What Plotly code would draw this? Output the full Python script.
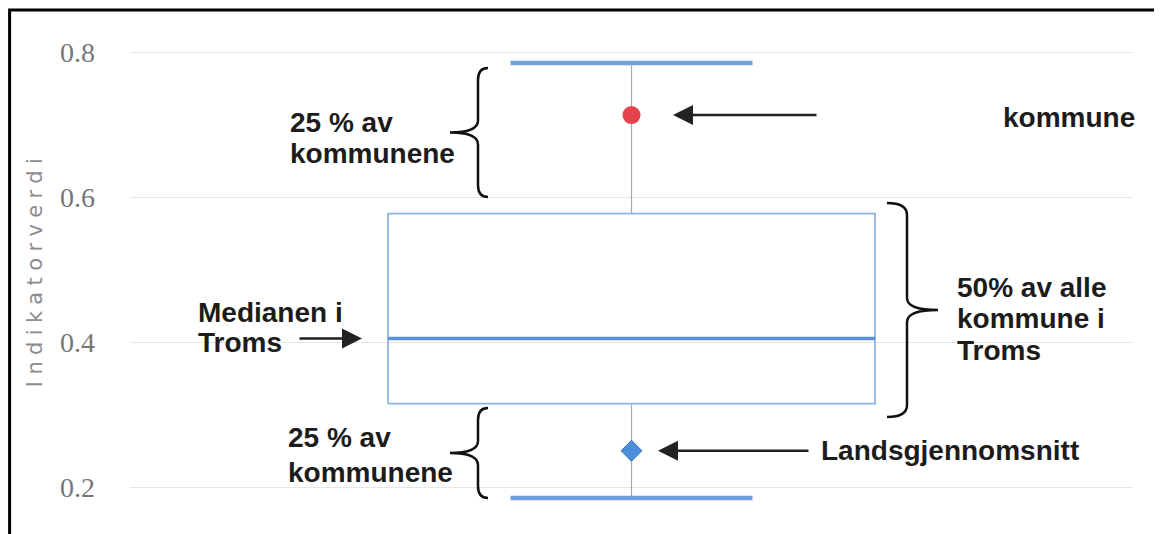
import plotly.graph_objects as go

# ---------------- data ----------------
categories = ["Troms"]
upper_whisker = [0.785]
q3_values = [0.577]
median_values = [0.405]
q1_values = [0.315]
lower_whisker = [0.185]
kommune_values = [0.713]
landsgjennomsnitt_values = [0.25]
y_tick_values = [0.2, 0.4, 0.6, 0.8]
y_tick_labels = ["0.2", "0.4", "0.6", "0.8"]
axis_title = "Indikatorverdi"

# ---------------- layout constants (page pixels) ----------------
OFF = 8                      # default body margin of the html page
W, H = 1162 - OFF, 534 - OFF # figure fits exactly in the window
PLOT_L, PLOT_R, PLOT_T, PLOT_B = 130, 1133, 23, 516   # plot area on the page
ML, MT = PLOT_L - OFF, PLOT_T - OFF
MR, MB = W - (PLOT_R - OFF), H - (PLOT_B - OFF)
X_RANGE = [-0.5, 0.5]
Y_RANGE = [0.16, 0.84]
PW, PH = PLOT_R - PLOT_L, PLOT_B - PLOT_T


def px2x(px):
    return X_RANGE[0] + (px - PLOT_L) / PW * (X_RANGE[1] - X_RANGE[0])


def px2y(py):
    return Y_RANGE[1] - (py - PLOT_T) / PH * (Y_RANGE[1] - Y_RANGE[0])


def dx(pixels):
    return pixels / PW * (X_RANGE[1] - X_RANGE[0])


BOX_HALF = dx(243.5)
CAP_HALF = dx(121)
c = 0  # position of the single category

fig = go.Figure()

# whiskers (thin grey)
fig.add_trace(go.Scatter(
    x=[c, c, None, c, c],
    y=[q3_values[0], upper_whisker[0], None, q1_values[0], lower_whisker[0]],
    mode="lines", line=dict(color="#a8a8a8", width=1.2),
    hoverinfo="skip", showlegend=False))

# box outline
fig.add_trace(go.Scatter(
    x=[c - BOX_HALF, c + BOX_HALF, c + BOX_HALF, c - BOX_HALF, c - BOX_HALF],
    y=[q1_values[0], q1_values[0], q3_values[0], q3_values[0], q1_values[0]],
    mode="lines", line=dict(color="#8fb4e3", width=1.8),
    name=categories[0], hoverinfo="skip", showlegend=False))

# median
fig.add_trace(go.Scatter(
    x=[c - BOX_HALF, c + BOX_HALF], y=[median_values[0]] * 2,
    mode="lines", line=dict(color="#5b8fd8", width=3.5),
    hoverinfo="skip", showlegend=False))

# whisker caps
fig.add_trace(go.Scatter(
    x=[c - CAP_HALF, c + CAP_HALF, None, c - CAP_HALF, c + CAP_HALF],
    y=[upper_whisker[0], upper_whisker[0], None, lower_whisker[0], lower_whisker[0]],
    mode="lines", line=dict(color="#6f9fdd", width=4.5),
    hoverinfo="skip", showlegend=False))

# kommune point
fig.add_trace(go.Scatter(
    x=[c], y=kommune_values, mode="markers",
    marker=dict(symbol="circle", size=18, color="#e4434b", line=dict(width=0)),
    hoverinfo="skip", showlegend=False))

# landsgjennomsnitt diamond
fig.add_trace(go.Scatter(
    x=[c], y=landsgjennomsnitt_values, mode="markers",
    marker=dict(symbol="diamond", size=16, color="#4a8fdb",
                line=dict(width=1, color="#2e6db5")),
    hoverinfo="skip", showlegend=False))

# ---------------- braces ----------------
def brace_path(end_px, body_px, tip_px, top_py, bot_py, r=12):
    mid = (top_py + bot_py) / 2
    pts = [
        ("M", [(end_px, top_py)]),
        ("Q", [(body_px, top_py), (body_px, top_py + r)]),
        ("L", [(body_px, mid - r)]),
        ("Q", [(body_px, mid), (tip_px, mid)]),
        ("Q", [(body_px, mid), (body_px, mid + r)]),
        ("L", [(body_px, bot_py - r)]),
        ("Q", [(body_px, bot_py), (end_px, bot_py)]),
    ]
    s = ""
    for cmd, pp in pts:
        s += cmd + " ".join(f"{px2x(a):.5f},{px2y(b):.5f}" for a, b in pp) + " "
    return s.strip()


shapes = []
for end_px, body_px, tip_px, t, b in [
    (488, 478, 450, 68, 197),
    (488, 478, 450, 408, 498),
    (887, 907, 938, 203, 417),
]:
    shapes.append(dict(type="path", xref="x", yref="y",
                       path=brace_path(end_px, body_px, tip_px, t, b),
                       line=dict(color="#111111", width=2.5)))

# outer frame
shapes.append(dict(type="rect", xref="paper", yref="paper",
                   x0=(9.6 - PLOT_L) / PW, x1=(1158 - PLOT_L) / PW,
                   y0=-0.08, y1=1 + (PLOT_T - 10) / PH,
                   line=dict(color="#000000", width=3)))

# ---------------- annotations ----------------
TXT = dict(family="Liberation Sans, Arial, sans-serif", size=28, color="#1c1c1c")
annotations = []


def label(text, x_px, y_px):
    annotations.append(dict(text=f"<b>{text}</b>", xref="x", yref="y",
                            x=px2x(x_px), y=px2y(y_px), xanchor="left",
                            yanchor="middle", showarrow=False, font=TXT))


label("25 % av", 288, 122)
label("kommunene", 288, 153)
label("25 % av", 286, 437)
label("kommunene", 286, 472)
label("Medianen i", 196, 312)
label("Troms", 196, 342)
label("50% av alle", 955, 287)
label("kommune i", 955, 318)
label("Troms", 955, 350)
label("Landsgjennomsnitt", 819, 450)
label("kommune", 1001, 117)

ARROW = dict(showarrow=True, arrowhead=2, arrowsize=1.6, arrowwidth=2.5,
             arrowcolor="#222222", text="", axref="pixel", ayref="pixel",
             xref="x", yref="y", standoff=0)
annotations.append(dict(x=px2x(673), y=kommune_values[0], ax=145, ay=0, **ARROW))
annotations.append(dict(x=px2x(362), y=median_values[0], ax=-64, ay=0, **ARROW))
annotations.append(dict(x=px2x(658), y=landsgjennomsnitt_values[0], ax=152, ay=0, **ARROW))

fig.update_layout(
    width=W, height=H,
    margin=dict(l=ML, r=MR, t=MT, b=MB, autoexpand=False),
    paper_bgcolor="white", plot_bgcolor="white",
    showlegend=False,
    xaxis=dict(range=X_RANGE, visible=False, fixedrange=True),
    yaxis=dict(range=Y_RANGE, tickvals=y_tick_values, ticktext=y_tick_labels,
               tickfont=dict(family="Liberation Serif, Times New Roman, serif",
                             size=28, color="#777777"),
               showgrid=True, gridcolor="#e6e6e6", gridwidth=1,
               zeroline=False, showline=False, ticks="",
               ticklabelstandoff=34, fixedrange=True,
               title=dict(text=f'<span style="letter-spacing:6.4px">{axis_title}</span>',
                          font=dict(family="DejaVu Sans, sans-serif", size=21,
                                    color="#8c8c8c"),
                          standoff=11)),
    shapes=shapes,
    annotations=annotations,
)

fig.write_html("out.html")
